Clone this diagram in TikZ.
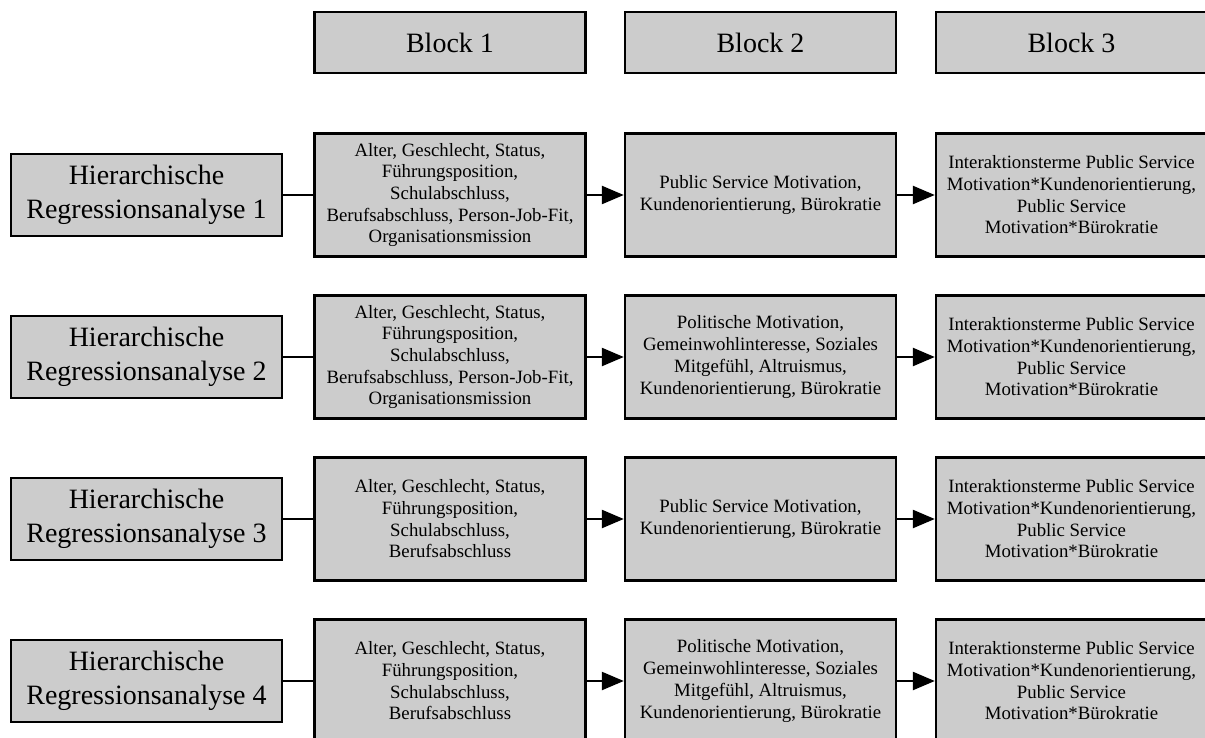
\documentclass[tikz,border=0pt]{standalone}
\usepackage{fontspec}
\setmainfont{Liberation Serif}
\usetikzlibrary{arrows.meta}
\begin{document}
\begin{tikzpicture}[x=1pt,y=-1pt,
  box/.style={draw=black,fill=black!20,line width=2.4pt,inner sep=0pt,align=center},
  headbox/.style={box,minimum width=271pt,minimum height=61pt,font=\fontsize{28}{34}\selectfont},
  leftbox/.style={box,minimum width=271pt,minimum height=82pt,font=\fontsize{28}{34}\selectfont},
  midbox/.style={box,minimum width=271pt,minimum height=123pt,font=\fontsize{18.8}{21.7}\selectfont},
  link/.style={line width=2.4pt},
  arr/.style={line width=2.4pt,-{Triangle[length=22pt,width=18pt]}}]
\useasboundingbox (0,0) rectangle (1205,738);
\clip (0,0) rectangle (1205,738);
\fill[white] (0,0) rectangle (1205,738);

\node[headbox] (h1) at (450,42.5) {Block 1};
\node[headbox] (h2) at (760.5,42.5) {Block 2};
\node[headbox] (h3) at (1071.5,42.5) {Block 3};

\foreach \r/\y/\ctl/\mid in {
  1/195/{Alter, Geschlecht, Status,\\Führungsposition,\\Schulabschluss,\\Berufsabschluss, Person-Job-Fit,\\Organisationsmission}/{Public Service Motivation,\\Kundenorientierung, Bürokratie},
  2/357/{Alter, Geschlecht, Status,\\Führungsposition,\\Schulabschluss,\\Berufsabschluss, Person-Job-Fit,\\Organisationsmission}/{Politische Motivation,\\Gemeinwohlinteresse, Soziales\\Mitgefühl, Altruismus,\\Kundenorientierung, Bürokratie},
  3/519/{Alter, Geschlecht, Status,\\Führungsposition,\\Schulabschluss,\\Berufsabschluss}/{Public Service Motivation,\\Kundenorientierung, Bürokratie},
  4/681/{Alter, Geschlecht, Status,\\Führungsposition,\\Schulabschluss,\\Berufsabschluss}/{Politische Motivation,\\Gemeinwohlinteresse, Soziales\\Mitgefühl, Altruismus,\\Kundenorientierung, Bürokratie}}{
  \node[leftbox] (l\r) at (146.5,\y) {Hierarchische\\Regressionsanalyse \r};
  \node[midbox] (a\r) at (450,\y) {\ctl};
  \node[midbox] (b\r) at (760.5,\y) {\mid};
  \node[midbox] (c\r) at (1071.5,\y) {Interaktionsterme Public Service\\Motivation*Kundenorientierung,\\Public Service\\Motivation*Bürokratie};
  \draw[link] (l\r.east) -- (a\r.west);
  \draw[arr] (a\r.east) -- (b\r.west);
  \draw[arr] (b\r.east) -- (c\r.west);
}
\end{tikzpicture}
\end{document}
